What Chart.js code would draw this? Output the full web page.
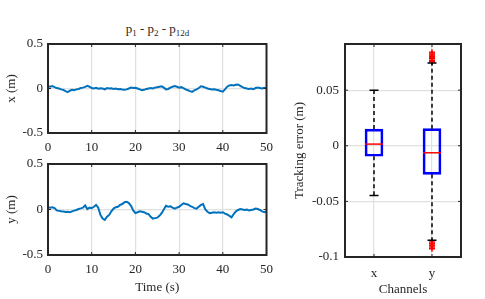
<!DOCTYPE html>
<html>
<head>
<meta charset="utf-8">
<script src="https://cdn.jsdelivr.net/npm/chart.js@4.4.1/dist/chart.umd.min.js"></script>
<style>
  html, body { margin: 0; padding: 0; background: #ffffff; }
  body { width: 485px; height: 299px; position: relative; overflow: hidden; }
  .box { position: absolute; }
  #title { position: absolute; left: 48px; width: 219px; top: 22px; text-align: center;
           font-family: "Liberation Serif", "Times New Roman", serif; font-size: 13px; color: #262626; line-height: 14px; }
  #title sub { font-size: 9px; vertical-align: -3px; line-height: 0; }
</style>
</head>
<body>
<div id="title">p<sub>1</sub> - p<sub>2</sub> - p<sub>12d</sub></div>
<div class="box" style="left:0;top:150px;width:280px;height:149px"><canvas id="cy"></canvas></div>
<div class="box" style="left:0;top:0;width:280px;height:158px"><canvas id="cx"></canvas></div>
<div class="box" style="left:280px;top:0;width:205px;height:299px"><canvas id="cb"></canvas></div>
<script>
// ---------------- data ----------------
const timeStep = 0.5; // s, sample spacing of the arrays below (t = 0 .. 50)
const errX = [
  0.025, 0.020, 0.028, 0.015, 0.005, 0.000, -0.010, -0.015, -0.030, -0.040,
  -0.025, -0.015, -0.020, -0.010, -0.005, 0.005, 0.010, 0.018, 0.030, 0.020,
  0.005, 0.000, 0.008, -0.003, 0.002, 0.000, -0.010, 0.005, 0.000, 0.003,
  -0.005, 0.000, -0.008, -0.005, -0.012, -0.015, -0.010, 0.000, 0.010, 0.005,
  0.008, 0.000, -0.010, -0.020, -0.015, -0.005, 0.000, 0.005, 0.000, 0.010,
  0.015, 0.020, 0.025, 0.010, -0.010, -0.005, 0.010, 0.020, 0.028, 0.020,
  0.010, 0.015, 0.005, -0.010, -0.020, -0.030, -0.038, -0.020, -0.010, 0.005,
  0.025, 0.020, 0.010, 0.000, -0.005, -0.010, -0.008, -0.015, -0.020, -0.028,
  -0.035, -0.010, 0.020, 0.035, 0.040, 0.035, 0.042, 0.045, 0.030, 0.015,
  0.005, 0.000, -0.005, 0.000, -0.008, 0.005, 0.010, 0.005, 0.000, 0.008,
  0.003
];
const errY = [
  0.025, 0.020, 0.025, 0.015, -0.010, -0.015, -0.020, -0.022, -0.028, -0.025,
  -0.030, -0.020, -0.012, -0.005, 0.005, 0.012, 0.020, 0.045, 0.005, 0.020,
  0.015, 0.030, 0.050, 0.020, -0.060, -0.100, -0.115, -0.080, -0.060, -0.020,
  0.010, 0.025, 0.030, 0.050, 0.060, 0.080, 0.085, 0.070, 0.040, -0.010,
  -0.040, -0.030, -0.020, -0.025, -0.030, -0.045, -0.050, -0.080, -0.100, -0.095,
  -0.090, -0.070, -0.040, 0.000, 0.040, 0.030, 0.035, 0.020, 0.010, 0.020,
  0.030, 0.050, 0.068, 0.060, 0.055, 0.040, 0.030, 0.015, 0.010, 0.030,
  0.050, 0.060, 0.000, -0.025, -0.040, -0.035, -0.030, -0.035, -0.030, -0.035,
  -0.030, -0.045, -0.055, -0.070, -0.087, -0.050, -0.020, -0.005, 0.005, 0.000,
  -0.005, 0.000, -0.010, -0.005, 0.000, 0.010, 0.005, -0.005, -0.020, -0.030,
  -0.020
];
const timeTicks = [0, 10, 20, 30, 40, 50];
const timeTickLabels = ['0', '10', '20', '30', '40', '50'];
const posTicks = [-0.5, 0, 0.5];
const posTickLabels = ['-0.5', '0', '0.5'];

const channels = ['x', 'y'];
const boxQ1 = [-0.0094, -0.0257];
const boxMedian = [0.0015, -0.0063];
const boxQ3 = [0.0150, 0.0154];
const whiskerLow = [-0.0447, -0.0850];
const whiskerHigh = [0.0500, 0.0745];
const outlierChannel = ['y', 'y', 'y', 'y', 'y', 'y', 'y', 'y', 'y', 'y', 'y', 'y', 'y'];
const outlierValue = [0.0755, 0.0770, 0.0785, 0.0795, 0.0805, 0.0815, 0.0825, 0.0840, -0.0865, -0.0880, -0.0895, -0.0910, -0.0925];
const errTicks = [-0.1, -0.05, 0, 0.05];
const errTickLabels = ['-0.1', '-0.05', '0', '0.05'];

// ---------------- styling helpers ----------------
const FONT = { family: '"Liberation Serif", "Times New Roman", serif', size: 13 };
const TXT = '#262626';
const GRID = '#e0e0e0';
Chart.defaults.font.family = FONT.family;
Chart.defaults.color = TXT;
Chart.defaults.animation = false;

function setTicks(values) {
  return s => { s.ticks = values.map(v => ({ value: v })); };
}
function labelFor(values, labels) {
  return v => { const i = values.findIndex(x => Math.abs(x - v) < 1e-9); return i >= 0 ? labels[i] : ''; };
}

// box + inward ticks like MATLAB
const matlabAxes = {
  id: 'matlabAxes',
  afterDatasetsDraw(chart) {
    const { ctx, chartArea: a, scales } = chart;
    ctx.save();
    ctx.strokeStyle = TXT;
    ctx.lineWidth = 1;
    const tl = 3;
    const xs = scales.x, ys = scales.y;
    xs.ticks.forEach((t, i) => {
      const px = xs.getPixelForTick(i);
      ctx.beginPath();
      ctx.moveTo(px, a.bottom); ctx.lineTo(px, a.bottom - tl);
      ctx.moveTo(px, a.top); ctx.lineTo(px, a.top + tl);
      ctx.stroke();
    });
    ys.ticks.forEach((t, i) => {
      const py = ys.getPixelForTick(i);
      ctx.beginPath();
      ctx.moveTo(a.left, py); ctx.lineTo(a.left + tl, py);
      ctx.moveTo(a.right, py); ctx.lineTo(a.right - tl, py);
      ctx.stroke();
    });
    ctx.lineWidth = 2;
    ctx.strokeRect(a.left, a.top, a.right - a.left, a.bottom - a.top);
    ctx.restore();
  }
};

function lineChart(id, values, yTitle, pad, xAxisH) {
  const pts = values.map((v, i) => ({ x: i * timeStep, y: v }));
  return new Chart(document.getElementById(id), {
    type: 'line',
    data: { datasets: [{ data: pts, borderColor: '#0072BD', borderWidth: 2, pointRadius: 0, tension: 0, fill: false }] },
    options: {
      responsive: true, maintainAspectRatio: false, animation: false,
      layout: { padding: pad },
      plugins: { legend: { display: false }, tooltip: { enabled: false } },
      scales: {
        x: {
          type: 'linear', min: 0, max: 50,
          afterBuildTicks: setTicks(timeTicks),
          ticks: { callback: labelFor(timeTicks, timeTickLabels), font: FONT, color: TXT, padding: xAxisH.tp, maxRotation: 0 },
          grid: { color: GRID, lineWidth: 1.2, drawTicks: false },
          border: { display: false },
          title: xAxisH.title ? { display: true, text: xAxisH.title, font: FONT, color: TXT, padding: { top: 2, bottom: 0 } } : { display: false },
          afterFit: s => { s.height = xAxisH.h; }
        },
        y: {
          min: -0.5, max: 0.5,
          afterBuildTicks: setTicks(posTicks),
          ticks: { callback: labelFor(posTicks, posTickLabels), font: FONT, color: TXT, padding: 5 },
          grid: { color: GRID, lineWidth: 1.2, drawTicks: false },
          border: { display: false },
          title: { display: true, text: yTitle, font: FONT, color: TXT, padding: { top: 0, bottom: 0 } },
          afterFit: s => { s.width = 44; }
        }
      }
    },
    plugins: [matlabAxes]
  });
}

lineChart('cx', errX, 'x (m)', { left: 4, top: 44, right: 13, bottom: 0 }, { h: 25, tp: 7 });
lineChart('cy', errY, 'y (m)', { left: 4, top: 14, right: 13, bottom: 4 }, { h: 40, tp: 7, title: 'Time (s)' });

// boxplot: whiskers, caps and medians drawn through the chart scales
const boxParts = {
  id: 'boxParts',
  afterDatasetsDraw(chart) {
    const { ctx, scales: { x, y } } = chart;
    ctx.save();
    channels.forEach((c, i) => {
      const cx = x.getPixelForValue(i);
      ctx.strokeStyle = '#000000';
      ctx.lineWidth = 1.5;
      ctx.setLineDash([4, 3]);
      ctx.beginPath();
      ctx.moveTo(cx, y.getPixelForValue(boxQ3[i])); ctx.lineTo(cx, y.getPixelForValue(whiskerHigh[i]));
      ctx.moveTo(cx, y.getPixelForValue(boxQ1[i])); ctx.lineTo(cx, y.getPixelForValue(whiskerLow[i]));
      ctx.stroke();
      ctx.setLineDash([]);
      ctx.beginPath();
      [whiskerHigh[i], whiskerLow[i]].forEach(w => {
        const py = y.getPixelForValue(w);
        ctx.moveTo(cx - 4.5, py); ctx.lineTo(cx + 4.5, py);
      });
      ctx.stroke();
      ctx.strokeStyle = '#ff0000';
      ctx.lineWidth = 1.5;
      ctx.beginPath();
      const pm = y.getPixelForValue(boxMedian[i]);
      ctx.moveTo(cx - 9, pm); ctx.lineTo(cx + 9, pm);
      ctx.stroke();
    });
    ctx.restore();
  }
};

new Chart(document.getElementById('cb'), {
  type: 'bar',
  data: {
    labels: channels,
    datasets: [
      {
        type: 'bar',
        data: channels.map((c, i) => [boxQ1[i], boxQ3[i]]),
        backgroundColor: 'rgba(0,0,0,0)', borderColor: '#0000ff', borderWidth: 2,
        borderSkipped: false, barThickness: 18, order: 2
      },
      {
        type: 'line', showLine: false,
        data: outlierValue.map((v, i) => ({ x: outlierChannel[i], y: v })),
        pointStyle: 'cross', pointRadius: 3, borderColor: '#ff0000', borderWidth: 1.5, order: 1
      }
    ]
  },
  options: {
    responsive: true, maintainAspectRatio: false, animation: false,
    layout: { padding: { left: 4, top: 44, right: 24, bottom: 2 } },
    plugins: { legend: { display: false }, tooltip: { enabled: false } },
    scales: {
      x: {
        type: 'category', offset: true,
        ticks: { font: FONT, color: TXT, padding: 9 },
        grid: { color: GRID, lineWidth: 1.2, drawTicks: false, offset: false },
        border: { display: false },
        title: { display: true, text: 'Channels', font: FONT, color: TXT, padding: { top: 0, bottom: 0 } },
        afterFit: s => { s.height = 40; }
      },
      y: {
        min: -0.1, max: 0.0915,
        afterBuildTicks: setTicks(errTicks),
        ticks: { callback: labelFor(errTicks, errTickLabels), font: FONT, color: TXT, padding: 6 },
        grid: { color: GRID, lineWidth: 1.2, drawTicks: false },
        border: { display: false },
        title: { display: true, text: 'Tracking error (m)', font: FONT, color: TXT, padding: { top: 8, bottom: 0 } },
        afterFit: s => { s.width = 61; }
      }
    }
  },
  plugins: [boxParts, matlabAxes]
});
</script>
</body>
</html>
